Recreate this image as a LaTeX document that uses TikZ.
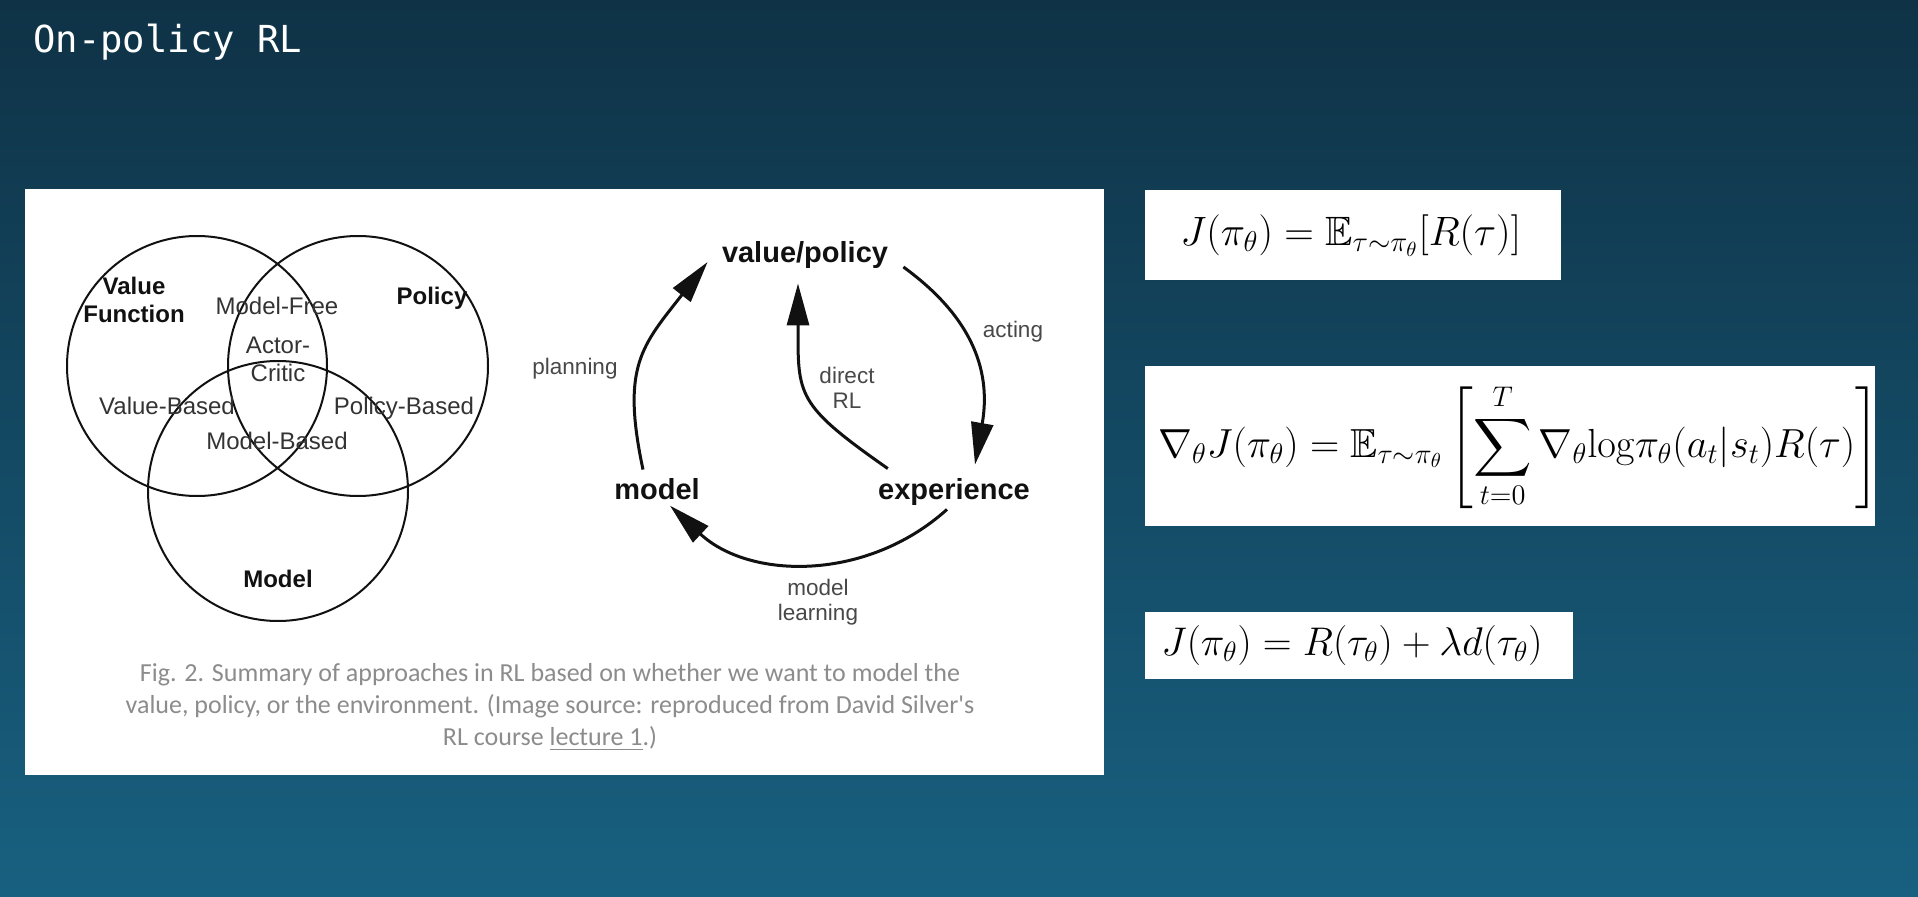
\documentclass[tikz,border=0pt]{standalone}
\usepackage{fix-cm}
\usepackage{amsmath,amssymb}
\DeclareFontFamily{U}{msb}{}
\DeclareFontShape{U}{msb}{m}{n}{<->msbm10}{}
\usepackage[no-math]{fontspec}
\setmainfont{Liberation Sans}
\newfontfamily\monofam{DejaVu Sans Mono}
\newfontfamily\capfam{Carlito}
\usepackage{tikz}
\usetikzlibrary{arrows.meta,positioning}
\definecolor{bgtop}{RGB}{15,50,70}
\definecolor{bgbot}{RGB}{24,96,128}
\definecolor{ink}{RGB}{17,17,17}
\definecolor{lblgray}{RGB}{51,51,51}
\definecolor{softgray}{RGB}{72,72,72}
\definecolor{capgray}{RGB}{140,140,140}

\begin{document}
\begin{tikzpicture}[x=0.5pt, y=0.5pt,
  ring/.style={draw=ink, line width=1pt, circle, minimum size=130pt, inner sep=0pt},
  vhead/.style={font=\fontsize{12}{14}\selectfont\bfseries, text=ink, align=center, inner sep=0pt},
  vtag/.style={font=\fontsize{12}{14}\selectfont, text=lblgray, align=center, inner sep=0pt},
  stage/.style={font=\fontsize{14.5}{17}\selectfont\bfseries, text=ink, inner sep=4pt},
  ctag/.style={font=\fontsize{11.25}{12.75}\selectfont, text=softgray, align=center, inner sep=0pt},
  cyc/.style={-{Triangle[length=21pt,width=11pt]}, line width=1.5pt, draw=ink},
  eqbox/.style={fill=white, anchor=north west, align=left, font=\fontsize{20.3}{24}\selectfont}
]
  \shade[top color=bgtop, bottom color=bgbot] (0,0) rectangle (1918,896);
  \useasboundingbox (0,0) rectangle (1918,896);

  \node[anchor=base west, inner sep=0pt, font=\monofam\fontsize{18.6}{23}\selectfont, text=white] (title) at (33,843) {On-policy RL};

  \fill[white] (25,121) rectangle (1104,707);

  \node[ring] (vf) at (197,530) {};
  \node[ring] (po) at (358,530) {};
  \node[ring] (md) at (278,405) {};
  \node[vhead] (vft) at (134,596) {Value\\Function};
  \node[vhead, anchor=base] (pot) at (432,591) {Policy};
  \node[vhead, anchor=base] (mdt) at (278,309) {Model};
  \node[vtag, anchor=base] (mf) at (277,581) {Model-Free};
  \node[vtag] (ac) at (278,536.5) {Actor-\\Critic};
  \node[vtag, anchor=base] (vb) at (167,481) {Value-Based};
  \node[vtag, anchor=base] (pb) at (404,481) {Policy-Based};
  \node[vtag, anchor=base] (mb) at (277,446) {Model-Based};

  \node[stage, anchor=base] (vp) at (805,633) {value/policy};
  \node[stage, anchor=base] (mdl) at (657,397) {model};
  \node[stage, anchor=base] (exp) at (954,397) {experience};
  \node[ctag, anchor=base] (act) at (1013,558) {acting};
  \node[ctag, anchor=base] (pln) at (575,522) {planning};
  \node[ctag] (drl) at (847,508) {direct\\RL};
  \node[ctag] (mlr) at (818,294) {model\\learning};
  \draw[cyc] ([xshift=-7pt]mdl.north) to[out=102, in=232, looseness=1.25] ([xshift=-3pt, yshift=-3.25pt]vp.west);
  \draw[cyc] ([xshift=3.5pt, yshift=-5.75pt]vp.east) to[out=-36, in=80, looseness=1.1] ([xshift=10.5pt, yshift=2.5pt]exp.north);
  \draw[cyc] ([xshift=9pt, yshift=0.5pt]exp.north west) to[out=145, in=270, looseness=1.4] ([xshift=-3.5pt, yshift=-3pt]vp.south);
  \draw[cyc] ([xshift=-3.5pt, yshift=2pt]exp.south) to[out=222, in=-43] ([xshift=6.5pt, yshift=1pt]mdl.south);

  \node[font=\capfam\fontsize{13}{16}\selectfont, text=capgray, align=center, inner sep=0pt] (cap) at (550,189)
    {Fig. 2. Summary of approaches in RL based on whether we want to model the\\value, policy, or the environment. (Image source: reproduced from David Silver's\\RL course \underline{lecture 1}.)};

  \node[eqbox, minimum width=208pt, minimum height=45pt, inner xsep=17.5pt, text width=173pt, font=\fontsize{20.5}{24}\selectfont] (f1) at (1145,706)
    {$J(\pi_\theta)=\mathbb{E}_{\tau\sim\pi_\theta}[R(\tau)]$};
  \node[eqbox, below right=42.5pt and 0pt of f1.south west, minimum width=365pt, minimum height=80pt, inner xsep=6.5pt, text width=352pt] (f2)
    {\mbox{$\nabla_\theta J(\pi_\theta)=\mathbb{E}_{\tau\sim\pi_\theta}\left[\displaystyle\sum_{t=0}^{T}\nabla_\theta\mathrm{log}\pi_\theta(a_t|s_t)R(\tau)\right]$}};
  \node[eqbox, below right=42.5pt and 0pt of f2.south west, minimum width=214pt, minimum height=33.5pt, inner xsep=8pt, text width=198pt, font=\fontsize{20}{24}\selectfont] (f3)
    {$J(\pi_\theta)=R(\tau_\theta)+\lambda d(\tau_\theta)$};
\end{tikzpicture}
\end{document}
